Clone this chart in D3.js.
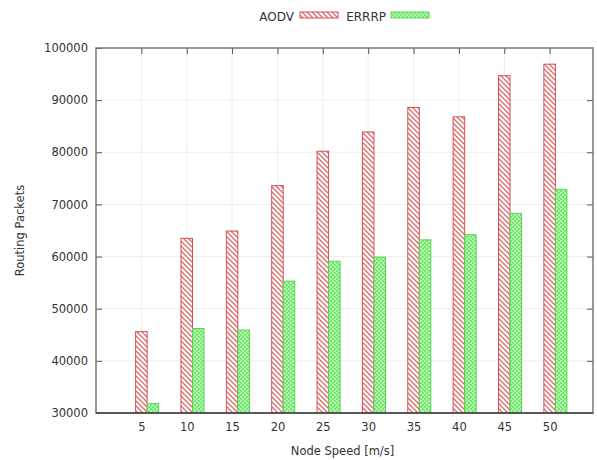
<!DOCTYPE html>
<html><head><meta charset="utf-8">
<script src="https://cdn.jsdelivr.net/npm/d3@7/dist/d3.min.js"></script>
<style>html,body{margin:0;padding:0;background:#fff;}svg{display:block;}</style>
</head><body><div id="chart"></div>
<script>
const speeds = [5, 10, 15, 20, 25, 30, 35, 40, 45, 50];
const aodv  = [45600, 63500, 64900, 73600, 80200, 83900, 88600, 86800, 94700, 96900];
const errrp = [31800, 46200, 45900, 55300, 59100, 59900, 63200, 64200, 68300, 72900];
const seriesNames = ["AODV", "ERRRP"];
const yTicks = [30000, 40000, 50000, 60000, 70000, 80000, 90000, 100000];

const W = 597, H = 460;
const L = 96, R = 593, T = 48, B = 413;
const font = "DejaVu Sans, sans-serif";

const svg = d3.select("#chart").append("svg").attr("width", W).attr("height", H);
const defs = svg.append("defs");

const pr = defs.append("pattern").attr("id", "hatch").attr("patternUnits", "userSpaceOnUse")
  .attr("width", 5).attr("height", 5);
pr.append("rect").attr("width", 5).attr("height", 5).attr("fill", "#fff");
pr.append("path").attr("d", "M-1,-1 L6,6 M-1,4 L1,6 M4,-1 L6,1")
  .attr("stroke", "#e06a6a").attr("stroke-width", 1.3);

const pg = defs.append("pattern").attr("id", "check").attr("patternUnits", "userSpaceOnUse")
  .attr("width", 4).attr("height", 4);
pg.append("rect").attr("width", 4).attr("height", 4).attr("fill", "#74e874");
pg.append("rect").attr("x", 0).attr("y", 0).attr("width", 2).attr("height", 2).attr("fill", "#b4f4a8");
pg.append("rect").attr("x", 2).attr("y", 2).attr("width", 2).attr("height", 2).attr("fill", "#b4f4a8");

const x = d3.scaleLinear().domain([0, 55]).range([L, R + 2]);
const y = d3.scaleLinear().domain([30000, 100000]).range([B, T]);
const bw = x(1.27) - x(0);

// grid
const grid = svg.append("g").attr("stroke", "#ededed").attr("stroke-width", 1);
grid.selectAll("line.h").data(yTicks.slice(1, -1)).join("line")
  .attr("x1", L).attr("x2", R).attr("y1", d => y(d)).attr("y2", d => y(d));
grid.selectAll("line.v").data(speeds).join("line")
  .attr("x1", d => x(d)).attr("x2", d => x(d)).attr("y1", T).attr("y2", B);

// bars
const data = speeds.map((s, i) => ({s, a: aodv[i], e: errrp[i]}));
svg.append("g").selectAll("rect").data(data).join("rect")
  .attr("x", d => x(d.s) - bw / 2).attr("width", bw)
  .attr("y", d => y(d.a)).attr("height", d => B - y(d.a))
  .attr("fill", "url(#hatch)").attr("stroke", "#d45050").attr("stroke-width", 1);
svg.append("g").selectAll("rect").data(data).join("rect")
  .attr("x", d => x(d.s) + bw / 2).attr("width", bw)
  .attr("y", d => y(d.e)).attr("height", d => B - y(d.e))
  .attr("fill", "url(#check)").attr("stroke", "#5ad25a").attr("stroke-width", 1);

// axes
const yAxis = d3.axisLeft(y).tickValues(yTicks).tickSize(-6).tickPadding(8).tickFormat(d3.format("d"));
const gy = svg.append("g").attr("transform", `translate(${L},0)`).call(yAxis);
const yAxisR = d3.axisRight(y).tickValues(yTicks.slice(1, -1)).tickSize(-6).tickFormat("");
const gyr = svg.append("g").attr("transform", `translate(${R},0)`).call(yAxisR);
const xAxis = d3.axisBottom(x).tickValues(speeds).tickSize(0).tickPadding(10).tickFormat(d3.format("d"));
const gx = svg.append("g").attr("transform", `translate(0,${B})`).call(xAxis);
const xAxisT = d3.axisTop(x).tickValues(speeds).tickSize(-6).tickFormat("");
const gxt = svg.append("g").attr("transform", `translate(0,${T})`).call(xAxisT);
[gy, gyr, gx, gxt].forEach(g => {
  g.select(".domain").remove();
  g.selectAll(".tick line").attr("stroke", "#555").attr("stroke-width", 1);
  g.selectAll("text").attr("font-family", font).attr("font-size", 11.5).attr("fill", "#333");
});

// frame
svg.append("rect").attr("x", L).attr("y", T).attr("width", R - L).attr("height", B - T)
  .attr("fill", "none").attr("stroke", "#777").attr("stroke-width", 1.5);
svg.append("line").attr("x1", L).attr("x2", R).attr("y1", B).attr("y2", B)
  .attr("stroke", "#444").attr("stroke-width", 1.5);

// axis titles
svg.append("text").attr("x", (L + R) / 2 - 2).attr("y", 455).attr("text-anchor", "middle")
  .attr("font-family", font).attr("font-size", 11.5).attr("fill", "#333").text("Node Speed [m/s]");
svg.append("text").attr("transform", `translate(24,${(T + B) / 2}) rotate(-90)`).attr("text-anchor", "middle")
  .attr("font-family", font).attr("font-size", 11.5).attr("fill", "#333").text("Routing Packets");

// legend
const legend = svg.append("g");
const legItems = [
  {name: seriesNames[0], tx: 294, sx: 300, fill: "url(#hatch)", stroke: "#d45050"},
  {name: seriesNames[1], tx: 386, sx: 391, fill: "url(#check)", stroke: "#5ad25a"}
];
legItems.forEach(it => {
  legend.append("text").attr("x", it.tx).attr("y", 21).attr("text-anchor", "end")
    .attr("font-family", font).attr("font-size", 12).attr("fill", "#333").text(it.name);
  legend.append("rect").attr("x", it.sx).attr("y", 12).attr("width", 38).attr("height", 6)
    .attr("fill", it.fill).attr("stroke", it.stroke).attr("stroke-width", 1);
});
</script></body></html>
